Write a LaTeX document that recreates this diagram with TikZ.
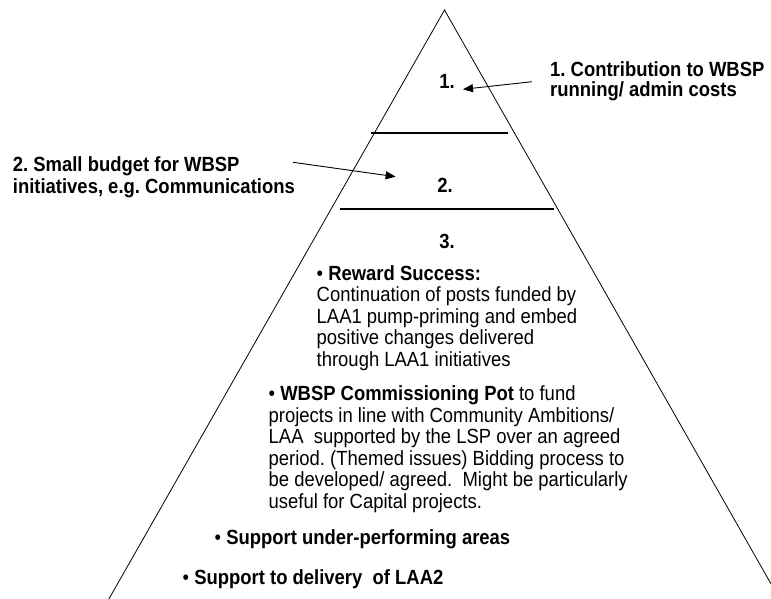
\documentclass[tikz,border=0pt]{standalone}
\usepackage{fontspec}
\setmainfont[FakeStretch=0.9]{Liberation Sans}
\usetikzlibrary{arrows.meta, positioning}
\frenchspacing

\begin{document}
\begin{tikzpicture}[x=1pt, y=-1pt,
    txt/.style={inner sep=0pt, font=\fontsize{20.5}{21.5}\selectfont},
    hd/.style={txt, font=\fontsize{20.5}{21.5}\selectfont\bfseries},
    block/.style={txt, align=left, anchor=base west},
    side/.style={line width=0.8pt},
    divider/.style={line width=1.7pt},
    pointer/.style={-{Triangle[length=10pt, width=8pt]}, line width=0.9pt}
]
\useasboundingbox (0,0) rectangle (771,599);
\coordinate (top) at (444.5,10);
\coordinate (lb) at (108.9,599);
\coordinate (rb) at (779.6,599);
\draw[side] (lb) -- (top) -- (rb);
\draw[divider] (371,133.3) -- (508,133.3);
\draw[divider] (340,209) -- (554,209);

\node[hd, anchor=base] (tier1) at (447,88.3) {1.};
\node[hd, anchor=base] (tier2) at (445,192.7) {2.};
\node[hd, anchor=base] (tier3) at (447,248.3) {3.};

\node[hd, align=left, anchor=base west, font=\fontsize{20.5}{20.5}\selectfont\bfseries] (note1) at (550,97) {1. Contribution to WBSP\\running/ admin costs};
\node[hd, align=left, anchor=base west] (note2) at (12.7,193.3) {2. Small budget for WBSP\\initiatives, e.g. Communications};

\coordinate (from1) at (532,81.7);
\coordinate (to1) at (463,89.3);
\coordinate (from2) at (293,162.3);
\coordinate (to2) at (395.6,176.7);
\draw[pointer] (from1) -- (to1);
\draw[pointer] (from2) -- (to2);

\node[block] (reward) at (316.5,366) {• \textbf{Reward Success:}\\Continuation of posts funded by\\LAA1 pump-priming and embed\\positive changes delivered\\through LAA1 initiatives};
\node[block] (pot) at (268.5,508) {• \textbf{WBSP Commissioning Pot} to fund\\projects in line with Community Ambitions/\\LAA\ \ supported by the LSP over an agreed\\period. (Themed issues) Bidding process to\\be developed/ agreed.\ \ Might be particularly\\useful for Capital projects.};
\node[block] (under) at (214.5,544) {• \textbf{Support under-performing areas}};
\node[block] (laa2) at (182.5,584) {• \textbf{Support to delivery\ \ of LAA2}};
\end{tikzpicture}
\end{document}
